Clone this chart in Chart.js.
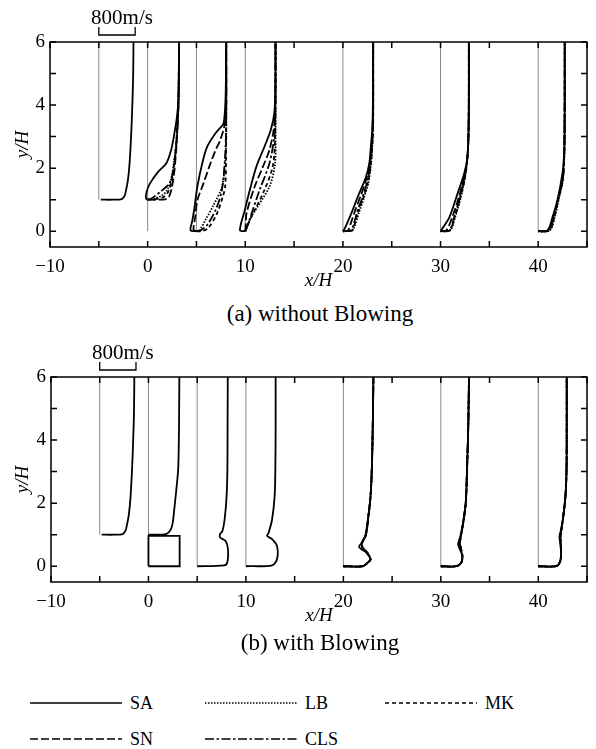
<!DOCTYPE html>
<html>
<head>
<meta charset="utf-8">
<script src="https://cdn.jsdelivr.net/npm/chart.js@4.4.0/dist/chart.umd.min.js"></script>
<style>
  body { margin: 0; background: #fff; width: 596px; height: 749px; position: relative; overflow: hidden; font-family: "Liberation Serif", "Times New Roman", serif; color: #000; }
  canvas { position: absolute; left: 0; }
  #chartA { top: 0; }
  #chartB { top: 335px; }
  .cap { position: absolute; left: 0; width: 640px; text-align: center; font-size: 23px; line-height: 24px; }
  .leg { position: absolute; font-size: 18px; line-height: 20px; }
  .leg svg { position: absolute; }
</style>
</head>
<body>
<canvas id="chartA" width="596" height="300"></canvas>
<canvas id="chartB" width="596" height="300"></canvas>
<div class="cap" style="top:302px">(a) without Blowing</div>
<div class="cap" style="top:631px">(b) with Blowing</div>
<div id="legend"></div>
<script>
// stations along the wall (x/H) and where each profile's wall sits (y/H)
const stations = [-5, 0, 5, 10, 20, 30, 40];
const wallY = [1, 0, 0, 0, 0, 0, 0];

// scale bar: 800 m/s spans this many x/H units
const barSpeed = "800m/s";
const barStart = -5;
const barLength = 3.72;

// profiles are [offset from station in x/H, y/H]
const upstream = [[0.2,1.0],[1.5,1.0],[2.35,1.02],[2.6,1.1],[2.72,1.2],[2.98,1.62],[3.15,2.15],[3.32,3.1],[3.45,4.16],[3.52,5.0],[3.55,6.0]];

// (a) without blowing
const saA = [
  upstream,
  [[0,1.0],[-0.17,1.04],[-0.1,1.25],[0.23,1.51],[1.07,1.88],[1.9,2.15],[2.4,2.57],[2.74,3.1],[3.0,3.63],[3.15,4.16],[3.2,5.0],[3.22,6.0]],
  [[0,0],[-0.6,0.03],[-0.45,0.3],[-0.24,0.67],[0.09,1.41],[0.59,2.15],[1.1,2.68],[1.93,3.1],[2.5,3.3],[2.78,3.42],[2.95,4.0],[3.02,4.8],[3.05,6.0]],
  [[0,0],[-0.55,0.03],[-0.05,0.67],[0.46,1.3],[1.13,2.04],[1.96,2.68],[2.6,3.2],[2.97,3.74],[3.08,4.5],[3.1,6.0]],
  [[0,0],[0.18,0.08],[0.85,0.56],[1.52,1.09],[2.36,1.72],[2.7,2.15],[2.86,2.68],[3.0,3.2],[3.07,4.0],[3.1,6.0]],
  [[0,0],[0.07,0.03],[0.91,0.45],[1.75,1.2],[2.42,1.83],[2.76,2.36],[2.86,3.1],[2.9,4.0],[2.9,6.0]],
  [[0,0],[0.97,0.03],[1.47,0.45],[1.97,0.98],[2.48,1.83],[2.64,2.36],[2.7,3.1],[2.72,4.0],[2.72,6.0]]
];
const snA = [
  null,
  [[0,1.0],[1.0,1.0],[1.9,1.02],[2.2,1.1],[2.45,1.35],[2.65,1.7],[2.8,2.1],[2.95,2.7],[3.05,3.3],[3.15,4.0],[3.22,6.0]],
  [[0,0],[-0.3,0.05],[-0.1,0.5],[0.09,0.98],[0.7,1.5],[1.43,2.15],[2.0,2.6],[2.44,2.89],[2.9,3.4],[3.05,4.0],[3.05,6.0]],
  [[0,0],[0.05,0.2],[0.12,0.56],[0.96,1.41],[1.8,2.04],[2.47,2.57],[2.9,3.2],[3.07,3.8],[3.1,6.0]],
  [[0,0],[0.5,0.02],[0.75,0.2],[1.3,0.7],[1.85,1.15],[2.45,1.7],[2.75,2.15],[2.95,2.8],[3.07,3.6],[3.1,6.0]],
  [[0,0],[0.6,0.03],[1.2,0.45],[1.85,1.05],[2.4,1.7],[2.72,2.25],[2.86,3.0],[2.9,4.0],[2.9,6.0]],
  [[0,0],[1.05,0.03],[1.55,0.45],[2.0,0.98],[2.5,1.7],[2.65,2.3],[2.7,3.1],[2.72,6.0]]
];
const clsA = [
  null,
  [[0,1.0],[0.4,1.04],[1.3,1.25],[2.2,1.5],[2.55,1.8],[2.8,2.3],[3.0,3.0],[3.15,4.0],[3.22,6.0]],
  [[0,0],[0.4,0.02],[1.1,0.2],[2.0,0.7],[2.6,1.3],[2.9,2.2],[3.03,3.2],[3.05,6.0]],
  [[0,0],[0.1,0.1],[0.29,0.24],[1.46,1.3],[2.47,2.15],[2.97,3.0],[3.08,3.8],[3.1,6.0]],
  [[0,0],[0.8,0.02],[1.02,0.14],[1.52,0.67],[2.02,1.09],[2.53,1.62],[2.8,2.1],[3.0,2.8],[3.08,3.5],[3.1,6.0]],
  [[0,0],[0.9,0.03],[1.4,0.45],[1.9,0.98],[2.4,1.62],[2.7,2.2],[2.85,3.0],[2.9,4.0],[2.9,6.0]],
  [[0,0],[1.1,0.03],[1.6,0.45],[2.0,0.98],[2.5,1.62],[2.65,2.3],[2.7,3.1],[2.72,6.0]]
];
const mkA = [
  null,
  [[0,1.0],[0.8,1.02],[1.6,1.08],[2.1,1.25],[2.45,1.6],[2.7,2.1],[2.95,2.9],[3.15,4.0],[3.22,6.0]],
  [[0,0],[0.5,0.0],[1.2,0.1],[2.1,0.56],[2.7,1.1],[2.94,1.41],[3.03,2.25],[3.05,6.0]],
  [[0,0],[0.2,0.15],[0.46,0.35],[1.96,1.3],[2.8,2.04],[3.05,2.89],[3.1,6.0]],
  [[0,0],[0.9,0.02],[1.1,0.12],[1.6,0.65],[2.1,1.08],[2.6,1.6],[2.85,2.1],[3.02,2.8],[3.1,3.5],[3.1,6.0]],
  [[0,0],[0.95,0.03],[1.45,0.45],[1.95,0.98],[2.45,1.62],[2.72,2.2],[2.86,3.0],[2.9,6.0]],
  [[0,0],[1.15,0.03],[1.65,0.45],[2.05,0.98],[2.52,1.62],[2.66,2.3],[2.71,3.1],[2.72,6.0]]
];
const lbA = [
  null,
  [[0,1.0],[0.6,1.03],[1.4,1.12],[2.0,1.3],[2.4,1.65],[2.7,2.2],[2.95,2.9],[3.15,4.0],[3.22,6.0]],
  [[0,0],[0.3,0.02],[1.0,0.4],[1.7,0.8],[2.6,1.4],[2.95,2.2],[3.05,3.0],[3.05,6.0]],
  [[0,0],[0.3,0.2],[0.6,0.45],[2.47,1.41],[3.05,2.15],[3.1,3.0],[3.1,6.0]],
  [[0,0],[0.95,0.02],[1.15,0.12],[1.65,0.6],[2.15,1.05],[2.62,1.55],[2.87,2.1],[3.03,2.8],[3.1,3.5],[3.1,6.0]],
  [[0,0],[1.0,0.03],[1.5,0.45],[2.0,0.98],[2.45,1.6],[2.72,2.2],[2.86,3.0],[2.9,6.0]],
  [[0,0],[1.2,0.03],[1.7,0.45],[2.08,0.98],[2.53,1.62],[2.67,2.3],[2.71,3.1],[2.72,6.0]]
];

// (b) with blowing
const blowSlot = [[0,0],[3.2,0],[3.2,0.96],[0,0.96],[0,0]];
const saB = [
  upstream,
  [[0,1.0],[1.8,1.02],[2.3,1.17],[2.5,1.4],[2.65,1.81],[2.9,2.55],[3.05,3.08],[3.12,4.0],[3.15,5.0],[3.17,6.0]],
  [[0,0],[2.76,0.03],[3.09,0.12],[3.16,0.54],[2.92,0.8],[2.35,0.91],[2.35,1.02],[2.59,1.12],[2.82,1.49],[3.02,2.23],[3.1,3.08],[3.12,4.5],[3.14,6.0]],
  [[0,0],[2.69,0.03],[3.19,0.22],[3.19,0.64],[2.69,0.86],[2.18,0.96],[2.34,1.07],[2.69,1.49],[2.95,2.23],[3.02,3.08],[3.05,4.5],[3.05,6.0]],
  [[0,0],[2.01,0],[2.52,0.12],[2.79,0.22],[2.35,0.43],[1.85,0.54],[1.61,0.62],[1.91,0.75],[2.25,0.96],[2.52,1.49],[2.79,2.23],[2.92,3.08],[3.02,4.5],[3.08,6.0]],
  [[0,0],[1.61,0],[2.11,0.12],[2.21,0.33],[1.95,0.54],[1.78,0.7],[2.01,0.96],[2.28,1.38],[2.56,2.02],[2.69,3.08],[2.82,4.5],[2.89,6.0]],
  [[0,0],[1.84,0],[2.24,0.15],[2.34,0.43],[2.24,0.75],[2.18,0.96],[2.34,1.17],[2.52,1.49],[2.79,2.23],[2.9,3.08],[2.92,4.5],[2.92,6.0]]
];
const otherB = [
  null, null, null, null,
  [[0,0],[2.01,0],[2.52,0.12],[2.79,0.22],[2.45,0.43],[2.05,0.56],[1.88,0.68],[2.02,0.82],[2.3,0.98],[2.54,1.49],[2.79,2.23],[2.92,3.08],[3.02,4.5],[3.08,6.0]],
  [[0,0],[1.61,0],[2.11,0.12],[2.21,0.33],[2.08,0.54],[1.96,0.72],[2.06,0.96],[2.3,1.38],[2.56,2.02],[2.69,3.08],[2.82,4.5],[2.89,6.0]],
  [[0,0],[1.84,0],[2.24,0.15],[2.34,0.43],[2.31,0.72],[2.28,0.96],[2.38,1.17],[2.53,1.49],[2.79,2.23],[2.9,3.08],[2.92,4.5],[2.92,6.0]]
];

const models = ["SA", "LB", "MK", "SN", "CLS"];
const dashes = { SA: [], LB: [1.5, 1.5], MK: [4, 3], SN: [8, 3], CLS: [9, 2.5, 2.5, 2.5] };

const FONT = "'Liberation Serif', 'Times New Roman', serif";

function profileData(station, pts) {
  return pts.map(([u, y]) => ({ x: station + u, y: y }));
}

function buildDatasets(byModel, extra) {
  const sets = [];
  // SA first so it sits on top
  ["SA", "SN", "CLS", "MK", "LB"].forEach(m => {
    (byModel[m] || []).forEach((pts, i) => {
      if (!pts) return;
      sets.push({ data: profileData(stations[i], pts), borderDash: dashes[m], tension: 0.3 });
    });
  });
  (extra || []).forEach(e => sets.push(e));
  stations.forEach((s, i) => {
    sets.push({ data: [{ x: s, y: wallY[i] }, { x: s, y: 6 }], borderColor: "#8a8a8a", borderWidth: 1, tension: 0 });
  });
  return sets;
}

const framePlugin = {
  id: "frame",
  afterDatasetsDraw(chart) {
    const { ctx, chartArea: a, scales: { x, y } } = chart;
    ctx.save();
    ctx.strokeStyle = "#000";
    ctx.lineWidth = 1.5;
    ctx.strokeRect(a.left, a.top, a.right - a.left, a.bottom - a.top);
    ctx.beginPath();
    x.ticks.forEach(t => {
      if (t.value % 5 !== 0) return;
      const px = x.getPixelForValue(t.value);
      ctx.moveTo(px, a.bottom); ctx.lineTo(px, a.bottom - 6);
      ctx.moveTo(px, a.top); ctx.lineTo(px, a.top + 6);
    });
    y.ticks.forEach(t => {
      if (!Number.isInteger(t.value)) return;
      const py = y.getPixelForValue(t.value);
      ctx.moveTo(a.left, py); ctx.lineTo(a.left + 6, py);
      ctx.moveTo(a.right, py); ctx.lineTo(a.right - 6, py);
    });
    ctx.stroke();
    // 800 m/s scale bar
    const x0 = x.getPixelForValue(barStart);
    const x1 = x.getPixelForValue(barStart + barLength);
    const yb = a.top - 7;
    ctx.lineWidth = 1.3;
    ctx.beginPath();
    ctx.moveTo(x0, yb - 8); ctx.lineTo(x0, yb); ctx.lineTo(x1, yb); ctx.lineTo(x1, yb - 8);
    ctx.stroke();
    ctx.fillStyle = "#000";
    ctx.font = "21px " + FONT;
    ctx.textAlign = "center";
    ctx.textBaseline = "middle";
    ctx.fillText(barSpeed, (x0 + x1) / 2 + 5, a.top - 24);
    ctx.restore();
  }
};

function makeOptions(leftWidth) {
  return {
    responsive: false,
    animation: false,
    devicePixelRatio: 1,
    layout: { padding: { top: 42, right: 1, left: 0, bottom: 0 } },
    plugins: { legend: { display: false }, tooltip: { enabled: false } },
    elements: { point: { radius: 0 }, line: { borderWidth: 1.8, borderColor: "#000", fill: false } },
    scales: {
      x: {
        type: "linear", min: -10, max: 45,
        grid: { display: false, drawTicks: false },
        border: { display: false },
        ticks: {
          stepSize: 5, autoSkip: false, maxRotation: 0, padding: 9, color: "#000",
          font: { family: FONT, size: 19 },
          callback: v => v % 10 === 0 ? (v < 0 ? "\u2212" + (-v) : String(v)) : ""
        },
        title: { display: true, text: "x/H", color: "#000", font: { family: FONT, size: 19, style: "italic" }, padding: { top: 0, bottom: 8 } },
        afterFit: s => { s.height = 53; }
      },
      y: {
        type: "linear", min: -0.5, max: 6,
        grid: { display: false, drawTicks: false },
        border: { display: false },
        ticks: {
          stepSize: 1, includeBounds: false, padding: 5, color: "#000",
          font: { family: FONT, size: 19 },
          callback: v => (Number.isInteger(v) && v % 2 === 0) ? String(v) : ""
        },
        title: { display: true, text: "y/H", color: "#000", font: { family: FONT, size: 19, style: "italic" }, padding: { top: 12, bottom: 0 } },
        afterFit: s => { s.width = leftWidth; }
      }
    }
  };
}

new Chart(document.getElementById("chartA"), {
  type: "scatter",
  data: { datasets: buildDatasets({ SA: saA, SN: snA, CLS: clsA, MK: mkA, LB: lbA }).map(d => Object.assign({ showLine: true }, d)) },
  options: makeOptions(50),
  plugins: [framePlugin]
});

const slotSet = { data: profileData(stations[1], blowSlot), tension: 0 };
new Chart(document.getElementById("chartB"), {
  type: "scatter",
  data: { datasets: buildDatasets({ SA: saB, SN: otherB, CLS: otherB, MK: otherB, LB: otherB }, [slotSet]).map(d => Object.assign({ showLine: true }, d)) },
  options: makeOptions(51),
  plugins: [framePlugin]
});

// legend
const legendPos = { SA: [30, 703], LB: [205, 703], MK: [385, 703], SN: [30, 739], CLS: [205, 739] };
const legend = document.getElementById("legend");
models.forEach(m => {
  const [lx, ly] = legendPos[m];
  const item = document.createElement("div");
  item.className = "leg";
  item.style.left = lx + "px";
  item.style.top = (ly - 10) + "px";
  item.innerHTML =
    '<svg width="92" height="20" style="left:0;top:0"><line x1="0" y1="10" x2="92" y2="10" stroke="#000" stroke-width="1.6" stroke-dasharray="' +
    (dashes[m].length ? dashes[m].join(" ") : "none") + '"/></svg>' +
    '<span style="position:absolute;left:100px;top:0;white-space:nowrap">' + m + '</span>';
  legend.appendChild(item);
});
</script>
</body>
</html>
